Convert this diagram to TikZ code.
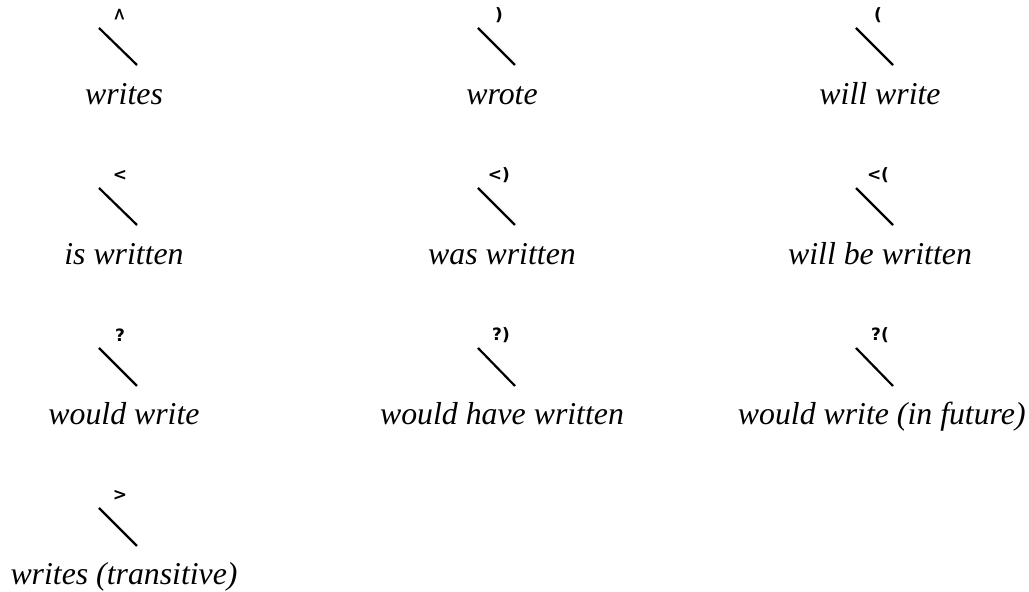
\documentclass[tikz,border=0pt]{standalone}
\usepackage{fontspec}
\setmainfont{Liberation Serif}
\newfontfamily\signfont{DejaVu Sans}
\usepackage{tikz}
\usetikzlibrary{positioning}

\tikzset{
  sign/.style={inner sep=0pt, font=\signfont\bfseries\fontsize{8.5}{9}\selectfont},
  gloss/.style={inner sep=0pt, anchor=base, font=\itshape\fontsize{15.9}{19}\selectfont},
  branch/.style={line width=1.1pt}
}

\begin{document}
\begin{tikzpicture}[x=0.5pt, y=-0.5pt]
\useasboundingbox (0,0) rectangle (1029,592);
% row 1
\node [sign, rotate=-90] (s1) at (120,15) {<};
\coordinate (a1) at (99,28); \coordinate (b1) at (137,65);
\node [gloss] (g1) at (124,105) {writes};
\node [sign] (s2) at (499,15) {)};
\coordinate (a2) at (478,28); \coordinate (b2) at (515,65);
\node [gloss] (g2) at (502,105) {wrote};
\node [sign] (s3) at (878,15) {(};
\coordinate (a3) at (856,28); \coordinate (b3) at (893,65);
\node [gloss] (g3) at (880,105) {will write};
% row 2
\node [sign] (s4) at (120,175) {<};
\coordinate (a4) at (99,188); \coordinate (b4) at (137,225);
\node [gloss] (g4) at (124,265) {is written};
\node [sign] (s5) at (499,175) {<)};
\coordinate (a5) at (478,188); \coordinate (b5) at (515,225);
\node [gloss] (g5) at (502,265) {was written};
\node [sign] (s6) at (878,175) {<(};
\coordinate (a6) at (856,188); \coordinate (b6) at (893,225);
\node [gloss] (g6) at (880,265) {will be written};
% row 3
\node [sign] (s7) at (120,335) {?};
\coordinate (a7) at (99,348); \coordinate (b7) at (137,386);
\node [gloss] (g7) at (124,425) {would write};
\node [sign] (s8) at (501,335) {?)};
\coordinate (a8) at (478,348); \coordinate (b8) at (515,386);
\node [gloss] (g8) at (502,425) {would have written};
\node [sign] (s9) at (880,335) {?(};
\coordinate (a9) at (856,348); \coordinate (b9) at (893,386);
\node [gloss, anchor=base east] (g9) at (1026,425) {would write (in future)};
% row 4
\node [sign] (s10) at (120,495) {>};
\coordinate (a10) at (99,508); \coordinate (b10) at (137,546);
\node [gloss] (g10) at (124,585) {writes (transitive)};
% branches
\draw [branch] (a1) -- (b1);
\draw [branch] (a2) -- (b2);
\draw [branch] (a3) -- (b3);
\draw [branch] (a4) -- (b4);
\draw [branch] (a5) -- (b5);
\draw [branch] (a6) -- (b6);
\draw [branch] (a7) -- (b7);
\draw [branch] (a8) -- (b8);
\draw [branch] (a9) -- (b9);
\draw [branch] (a10) -- (b10);
\end{tikzpicture}
\end{document}
